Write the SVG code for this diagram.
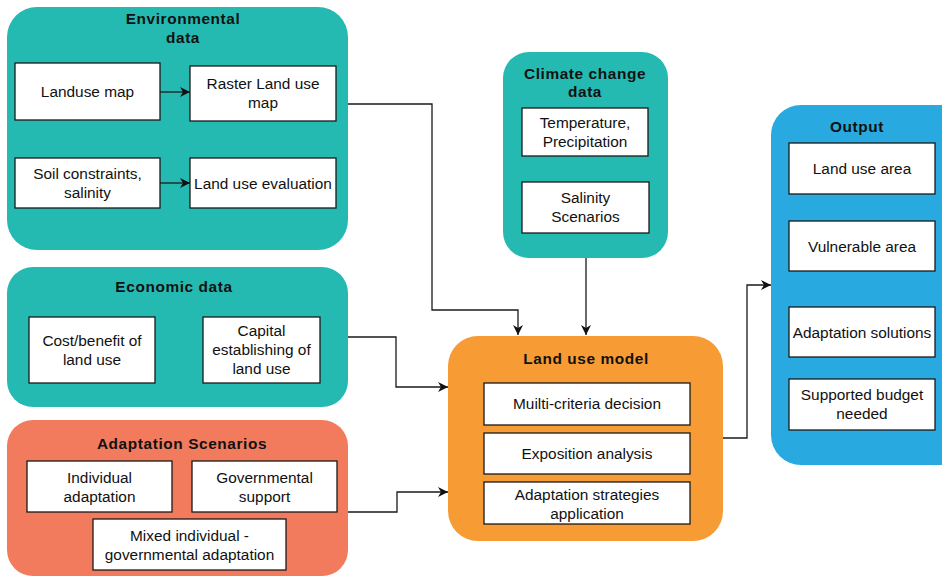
<svg xmlns="http://www.w3.org/2000/svg" width="942" height="576" viewBox="0 0 942 576">
<style>
.teal{fill:#25BAB1}
.orange{fill:#F79C34}
.coral{fill:#F27B5E}
.blue{fill:#28A9E0}
.box{fill:#ffffff;stroke:#1a1a1a;stroke-width:1.3}
.t{font-family:"Liberation Sans",Arial,sans-serif;font-size:15.4px;fill:#111;text-anchor:middle}
.h{font-family:"Liberation Sans",Arial,sans-serif;font-size:15.4px;font-weight:bold;fill:#111;text-anchor:middle;letter-spacing:0.6px}
.c{fill:none;stroke:#1a1a1a;stroke-width:1.3;marker-end:url(#ah)}
</style>
<defs>
<marker id="ah" viewBox="0 0 10 10" refX="10" refY="5" markerWidth="10" markerHeight="10" markerUnits="userSpaceOnUse" orient="auto">
<path d="M0,0 L10,5 L0,10 L3,5 Z" fill="#111"/>
</marker>
</defs>
<rect width="942" height="576" fill="#ffffff"/>

<g id="environmental-data">
<rect class="teal" x="7" y="7" width="341" height="243" rx="30"/>
<text class="h" x="183" y="24">Environmental</text>
<text class="h" x="183" y="43">data</text>
<g id="landuse-map"><rect class="box" x="15" y="63" width="145" height="57"/><text class="t" x="87.5" y="97">Landuse map</text></g>
<g id="raster-land-use-map"><rect class="box" x="190" y="66" width="146" height="55"/><text class="t" x="263" y="89">Raster Land use</text><text class="t" x="263" y="108">map</text></g>
<g id="soil-constraints"><rect class="box" x="15" y="158" width="145" height="50"/><text class="t" x="87.5" y="179">Soil constraints,</text><text class="t" x="87.5" y="198">salinity</text></g>
<g id="land-use-evaluation"><rect class="box" x="190" y="158" width="146" height="50"/><text class="t" x="263" y="189">Land use evaluation</text></g>
</g>

<g id="climate-change-data">
<rect class="teal" x="503" y="52" width="165" height="206" rx="26"/>
<text class="h" x="585" y="79">Climate change</text>
<text class="h" x="585" y="97">data</text>
<g id="temperature"><rect class="box" x="522" y="108" width="126" height="48"/><text class="t" x="585" y="128">Temperature,</text><text class="t" x="585" y="147">Precipitation</text></g>
<g id="salinity-scenarios"><rect class="box" x="522" y="182" width="127" height="51"/><text class="t" x="585.5" y="203">Salinity</text><text class="t" x="585.5" y="222">Scenarios</text></g>
</g>

<g id="economic-data">
<rect class="teal" x="7" y="267" width="341" height="140" rx="26"/>
<text class="h" x="174" y="292">Economic data</text>
<g id="cost-benefit"><rect class="box" x="29" y="317" width="126" height="66"/><text class="t" x="92" y="346">Cost/benefit of</text><text class="t" x="92" y="365">land use</text></g>
<g id="capital-establishing"><rect class="box" x="203" y="317" width="117" height="66"/><text class="t" x="261.5" y="336">Capital</text><text class="t" x="261.5" y="355">establishing of</text><text class="t" x="261.5" y="374">land use</text></g>
</g>

<g id="adaptation-scenarios">
<rect class="coral" x="7" y="420" width="341" height="156" rx="26"/>
<text class="h" x="182" y="449">Adaptation Scenarios</text>
<g id="individual-adaptation"><rect class="box" x="27" y="461" width="145" height="51"/><text class="t" x="99.5" y="483">Individual</text><text class="t" x="99.5" y="502">adaptation</text></g>
<g id="governmental-support"><rect class="box" x="192" y="461" width="145" height="51"/><text class="t" x="264.5" y="483">Governmental</text><text class="t" x="264.5" y="502">support</text></g>
<g id="mixed-adaptation"><rect class="box" x="93" y="519" width="193" height="51"/><text class="t" x="189.5" y="541">Mixed individual -</text><text class="t" x="189.5" y="560">governmental adaptation</text></g>
</g>

<g id="land-use-model">
<rect class="orange" x="448" y="336" width="275" height="205" rx="30"/>
<text class="h" x="586" y="364">Land use model</text>
<g id="multi-criteria"><rect class="box" x="484" y="383" width="206" height="42"/><text class="t" x="587" y="409">Muilti-criteria decision</text></g>
<g id="exposition-analysis"><rect class="box" x="484" y="433" width="206" height="41"/><text class="t" x="587" y="459">Exposition analysis</text></g>
<g id="adaptation-strategies"><rect class="box" x="484" y="482" width="206" height="42"/><text class="t" x="587" y="500">Adaptation strategies</text><text class="t" x="587" y="519">application</text></g>
</g>

<g id="output">
<rect class="blue" x="771" y="105" width="200" height="360" rx="30"/>
<text class="h" x="857" y="132">Output</text>
<g id="land-use-area"><rect class="box" x="789" y="143" width="146" height="51"/><text class="t" x="862" y="174">Land use area</text></g>
<g id="vulnerable-area"><rect class="box" x="789" y="221" width="146" height="50"/><text class="t" x="862" y="252">Vulnerable area</text></g>
<g id="adaptation-solutions"><rect class="box" x="789" y="307" width="146" height="50"/><text class="t" x="862" y="338">Adaptation solutions</text></g>
<g id="supported-budget"><rect class="box" x="789" y="379" width="146" height="51"/><text class="t" x="862" y="400">Supported budget</text><text class="t" x="862" y="419">needed</text></g>
</g>

<g id="connectors">
<path class="c" d="M160,92 H190"/>
<path class="c" d="M160,183 H190"/>
<path class="c" d="M348,104 H432 V310 H518 V335"/>
<path class="c" d="M586,258 V335"/>
<path class="c" d="M348,337 H396 V387 H448"/>
<path class="c" d="M348,512 H397 V492 H448"/>
<path class="c" d="M723,438 H747 V285 H771"/>
</g>
</svg>
